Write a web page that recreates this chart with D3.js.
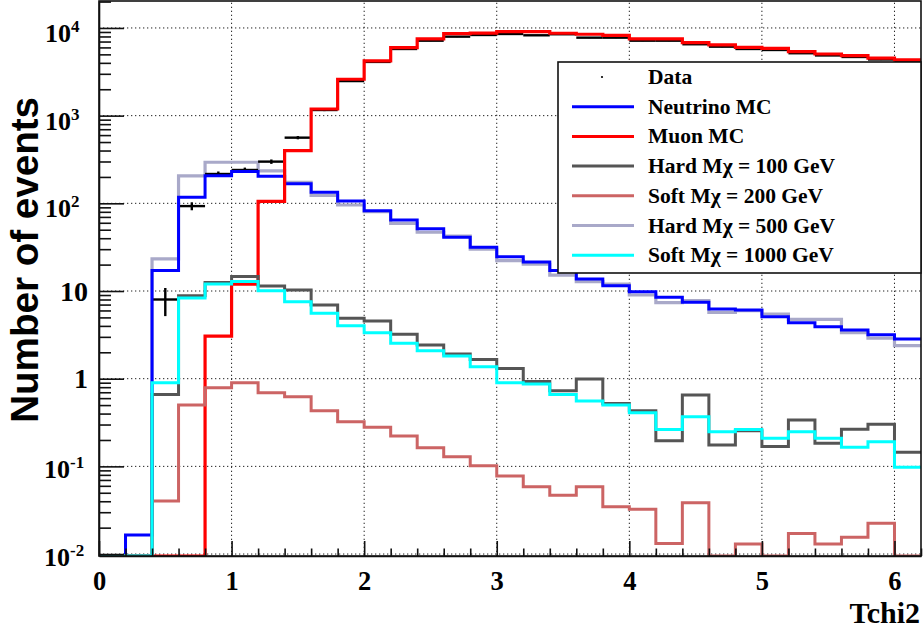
<!DOCTYPE html>
<html>
<head>
<meta charset="utf-8">
<script src="https://cdn.jsdelivr.net/npm/d3@7"></script>
<style>
  html, body { margin: 0; padding: 0; background: #fff; }
  svg { display: block; }
</style>
</head>
<body>
<svg id="chart" width="923" height="631"></svg>
<script>
// ---------------- data ----------------
const binEdges = [0,0.2,0.4,0.6,0.8,1.0,1.2,1.4,1.6,1.8,2.0,2.2,2.4,2.6,2.8,3.0,3.2,3.4,3.6,3.8,4.0,4.2,4.4,4.6,4.8,5.0,5.2,5.4,5.6,5.8,6.0,6.2];

const dataCounts = [0,0,8,93,216,240,299,561,1160,2480,4100,5760,7160,7960,8320,8540,8250,8480,7750,7750,7160,7160,6520,6120,5760,5610,5150,4860,4670,4370,4200];

const neutrinoMC = [0,0.0165,17.1,117,206,230,204,167,134,106,82.5,64.6,51.4,41,31.5,24.6,21.4,17.1,13.7,11.5,9.8,8.47,7.43,6.23,6.07,5.09,4.35,3.91,3.59,3.18,2.84];

const muonMC = [0,0,0,0,3.05,12,105,400,1190,2600,4210,5960,7490,8600,8750,9090,9090,8700,8480,8250,7490,7490,6800,6400,6020,5860,5370,5050,4830,4520,4320];

const hard100 = [0,0,0.66,8.8,12.5,14.6,11.4,10.3,6.92,4.89,4.55,3.21,2.42,1.91,1.66,1.31,0.93,0.73,0.99,0.52,0.43,0.196,0.65,0.175,0.255,0.168,0.338,0.183,0.265,0.302,0.1445];

const soft200 = [0,0,0.0403,0.50,0.79,0.90,0.69,0.623,0.431,0.323,0.279,0.222,0.163,0.129,0.1017,0.0776,0.0586,0.0468,0.0586,0.0347,0.0324,0.0132,0.0385,0,0.0130,0,0.0172,0.0130,0.0155,0.0224,0];

const hard500 = [0,0,23.2,206,294,294,235,174,123,95.7,80.3,59.2,46.8,42.4,30.1,22.2,20.2,15.2,12.8,12,9.0,7.36,7.76,5.72,5.97,5.47,4.75,4.75,3.35,2.89,2.38];

const soft1000 = [0,0,0.90,8.3,12.0,12.8,10.1,7.55,5.57,4.02,3.35,2.53,2.08,1.81,1.37,0.90,0.87,0.66,0.556,0.50,0.41,0.264,0.368,0.248,0.264,0.209,0.248,0.209,0.165,0.191,0.0975];

const xTickValues = [0,1,2,3,4,5,6];
const yDecades = [0.01,0.1,1,10,100,1000,10000];
const yTickLabels = [
  {v:0.01, base:"10", exp:"-2"},
  {v:0.1, base:"10", exp:"-1"},
  {v:1, base:"1", exp:""},
  {v:10, base:"10", exp:""},
  {v:100, base:"10", exp:"2"},
  {v:1000, base:"10", exp:"3"},
  {v:10000, base:"10", exp:"4"}
];

const legendLabels = ["Data","Neutrino MC","Muon MC","Hard M\u03C7 = 100 GeV","Soft M\u03C7 = 200 GeV","Hard M\u03C7 = 500 GeV","Soft M\u03C7 = 1000 GeV"];

// ---------------- layout ----------------
const W = 923, H = 631;
const L = 99, R = 921, T = 1, B = 556;
const yMin = 0.0095, yMax = 20300;

const svg = d3.select("#chart");
svg.append("rect").attr("width", W).attr("height", H).attr("fill", "#fff");

const x = d3.scaleLinear().domain([0, 6.2]).range([L, R]);
const y = d3.scaleLog().domain([yMin, yMax]).range([B, T]);

const serif = "'Liberation Serif', 'Times New Roman', serif";
const sans = "'Liberation Sans', Arial, Helvetica, sans-serif";

svg.append("defs").append("clipPath").attr("id", "plotclip")
  .append("rect").attr("x", L).attr("y", T).attr("width", R - L).attr("height", B - T);

// grid
const grid = svg.append("g").attr("stroke", "#222").attr("stroke-width", 1)
  .attr("stroke-dasharray", "1.3,2.7");
grid.selectAll("line.gx").data(xTickValues.filter(d => d > 0)).join("line")
  .attr("x1", d => x(d)).attr("x2", d => x(d)).attr("y1", B).attr("y2", T);
grid.selectAll("line.gy").data(yDecades).join("line")
  .attr("x1", L).attr("x2", R).attr("y1", d => y(d)).attr("y2", d => y(d));

// ---------------- histograms ----------------
const plot = svg.append("g").attr("clip-path", "url(#plotclip)");

function clampVal(v) { return Math.max(v, yMin); }
function stepPath(vals) {
  const p = d3.path();
  vals.forEach((v, i) => {
    const yy = y(clampVal(v));
    if (i === 0) p.moveTo(x(binEdges[0]), yy);
    else p.lineTo(x(binEdges[i]), yy);
    p.lineTo(x(binEdges[i + 1]), yy);
  });
  return p.toString();
}

function drawHist(vals, color, width) {
  plot.append("path").attr("d", stepPath(vals))
    .attr("fill", "none").attr("stroke", color).attr("stroke-width", width)
    .attr("stroke-linejoin", "miter").attr("stroke-linecap", "butt");
}

const colors = {
  neutrino: "#0000ff",
  muon: "#ff0000",
  hard100: "#555555",
  soft200: "#cc6464",
  hard500: "#a9a9c9",
  soft1000: "#00ffff"
};

drawHist(hard500, colors.hard500, 3.2);

// data points with error bars
const dataG = plot.append("g").attr("stroke", "#000").attr("stroke-width", 2.4);
const dataPts = dataCounts.map((v, i) => ({v, i})).filter(d => d.v > 0);
dataG.selectAll("line.h").data(dataPts).join("line")
  .attr("x1", d => x(binEdges[d.i])).attr("x2", d => x(binEdges[d.i + 1]))
  .attr("y1", d => y(d.v)).attr("y2", d => y(d.v));
dataG.selectAll("line.v").data(dataPts).join("line")
  .attr("x1", d => x((binEdges[d.i] + binEdges[d.i + 1]) / 2))
  .attr("x2", d => x((binEdges[d.i] + binEdges[d.i + 1]) / 2))
  .attr("y1", d => y(d.v + Math.sqrt(d.v))).attr("y2", d => y(Math.max(d.v - Math.sqrt(d.v), yMin)));

drawHist(neutrinoMC, colors.neutrino, 3);
drawHist(muonMC, colors.muon, 3.2);
drawHist(soft200, colors.soft200, 3);
drawHist(hard100, colors.hard100, 3);
drawHist(soft1000, colors.soft1000, 3);

// ---------------- axes ----------------
const axisColor = "#111";
// x major
const xAxisMajor = d3.axisBottom(x).tickValues(xTickValues).tickSize(-15).tickSizeOuter(0)
  .tickPadding(15.5).tickFormat(d3.format("d"));
const gx = svg.append("g").attr("transform", `translate(0,${B})`).call(xAxisMajor);
gx.select(".domain").attr("stroke", axisColor).attr("stroke-width", 1.6);
gx.selectAll(".tick line").attr("stroke", axisColor).attr("stroke-width", 1.6);
gx.selectAll(".tick text").attr("font-family", serif).attr("font-weight", "bold")
  .attr("font-size", 26.5).attr("fill", "#000");
// x minor
const xMinor = binEdges.filter(d => Math.abs(d - Math.round(d)) > 1e-6);
const gxm = svg.append("g").attr("transform", `translate(0,${B})`)
  .call(d3.axisBottom(x).tickValues(xMinor).tickSize(-7.5).tickSizeOuter(0).tickFormat(""));
gxm.select(".domain").remove();
gxm.selectAll(".tick line").attr("stroke", axisColor).attr("stroke-width", 1.6);

// y major & minor ticks
const yMinorVals = [];
[0.01,0.1,1,10,100,1000,10000].forEach(dec => {
  for (let k = 2; k <= 9; k++) { const v = dec * k; if (v <= yMax) yMinorVals.push(v); }
});
const gy = svg.append("g").attr("transform", `translate(${L},0)`)
  .call(d3.axisLeft(y).tickValues(yDecades).tickSize(-25).tickSizeOuter(0).tickFormat(""));
gy.select(".domain").attr("stroke", axisColor).attr("stroke-width", 1.6);
gy.selectAll(".tick line").attr("stroke", axisColor).attr("stroke-width", 1.6);
const gym = svg.append("g").attr("transform", `translate(${L},0)`)
  .call(d3.axisLeft(y).tickValues(yMinorVals).tickSize(-12).tickSizeOuter(0).tickFormat(""));
gym.select(".domain").remove();
gym.selectAll(".tick line").attr("stroke", axisColor).attr("stroke-width", 1.6);

// y labels
const yl = svg.append("g").attr("font-family", serif).attr("font-weight", "bold").attr("fill", "#000");
yTickLabels.forEach(t => {
  const yy = y(t.v);
  if (t.exp === "") {
    yl.append("text").attr("x", 88).attr("y", yy + 9.5).attr("text-anchor", "end")
      .attr("font-size", 28).text(t.base);
  } else {
    const shift = t.exp.startsWith("-") ? 12 : 14;
    const baseX = t.exp.startsWith("-") ? 70 : 71;
    yl.append("text").attr("x", baseX).attr("y", yy + shift).attr("text-anchor", "end")
      .attr("font-size", 26).text(t.base);
    yl.append("text").attr("x", baseX).attr("y", yy + shift - 10).attr("text-anchor", "start")
      .attr("font-size", 17).text(t.exp);
  }
});

// frame (top & right)
svg.append("rect").attr("x", L).attr("y", T).attr("width", R - L).attr("height", B - T)
  .attr("fill", "none").attr("stroke", axisColor).attr("stroke-width", 1.6);

// axis titles
svg.append("text").attr("transform", "translate(38,97) rotate(-90)")
  .attr("text-anchor", "end").attr("font-family", sans).attr("font-weight", "bold")
  .attr("font-size", 38.6).attr("fill", "#000").text("Number of events");
svg.append("text").attr("x", 920).attr("y", 623).attr("text-anchor", "end")
  .attr("font-family", serif).attr("font-weight", "bold").attr("font-size", 30)
  .attr("fill", "#000").text("Tchi2");

// ---------------- legend ----------------
const legX = 558, legY = 62, legW = R - 558, legH = 211;
const leg = svg.append("g");
leg.append("rect").attr("x", legX).attr("y", legY).attr("width", legW).attr("height", legH)
  .attr("fill", "#fff").attr("stroke", "#111").attr("stroke-width", 1.6);
const legColors = [null, colors.neutrino, colors.muon, colors.hard100, colors.soft200, colors.hard500, colors.soft1000];
const rowY0 = 77, rowStep = 29.7;
legendLabels.forEach((lab, i) => {
  const ry = rowY0 + i * rowStep;
  if (i === 0) {
    leg.append("circle").attr("cx", 602).attr("cy", ry).attr("r", 1.1).attr("fill", "#000");
  } else {
    leg.append("line").attr("x1", 572).attr("x2", 634).attr("y1", ry).attr("y2", ry)
      .attr("stroke", legColors[i]).attr("stroke-width", 3);
  }
  leg.append("text").attr("x", 648).attr("y", ry + 7).attr("font-family", serif)
    .attr("font-weight", "bold").attr("font-size", 21.5).attr("fill", "#000").text(lab);
});
</script>
</body>
</html>
